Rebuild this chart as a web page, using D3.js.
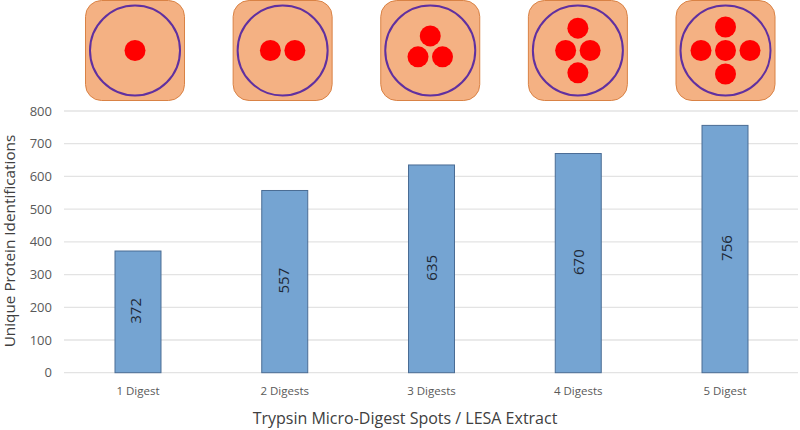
<!DOCTYPE html>
<html><head><meta charset="utf-8">
<script src="https://d3js.org/d3.v7.min.js"></script>
<style>html,body{margin:0;background:#fff}svg{display:block;font-family:"Open Sans",sans-serif}</style>
</head><body><svg width="800" height="430"></svg>
<script>
const categories=["1 Digest","2 Digests","3 Digests","4 Digests","5 Digest"];
const values=[372,557,635,670,756];
const yTicks=[0,100,200,300,400,500,600,700,800];
// Spot layout of each icon, in units of one spot-grid step
const spotCols=[[0],[-0.5,0.5],[-0.5,0,0.5],[-0.5,0.5,0,0],[-1,0,1,0,0]];
const spotRows=[[0],[0,0],[0.27,-0.62,0.27],[0,0,-0.95,0.95],[0,0,0,-1,1]];

const svg=d3.select("svg");
const x=d3.scaleBand().domain(categories).range([115,748]).paddingInner(0.6866).paddingOuter(0);
const iconX=d3.scalePoint().domain(categories).range([135,725.5]);
const y=d3.scaleLinear().domain([0,800]).range([372.7,111]);
const cx=c=>x(c)+x.bandwidth()/2;

svg.append("g").selectAll("line").data(yTicks).join("line")
  .attr("x1",64).attr("x2",798).attr("y1",d=>y(d)).attr("y2",d=>y(d))
  .attr("stroke","#e3e3e3").attr("stroke-width",1.3);
svg.append("g").selectAll("text").data(yTicks).join("text")
  .attr("x",52).attr("y",d=>y(d)).attr("dy","0.35em").attr("text-anchor","end")
  .attr("font-size",13).attr("fill","#595959").text(d=>d);

svg.append("g").selectAll("rect").data(values).join("rect")
  .attr("x",(d,i)=>x(categories[i])).attr("width",x.bandwidth())
  .attr("y",d=>y(d)).attr("height",d=>y(0)-y(d))
  .attr("fill","#75a4d2").attr("stroke","#4a6c94").attr("stroke-width",1);
svg.append("g").selectAll("text").data(values).join("text")
  .attr("transform",(d,i)=>`translate(${iconX(categories[i])+1},${y(d/2)-1}) rotate(-90)`)
  .attr("text-anchor","middle").attr("dy","0.35em")
  .attr("font-size",15).attr("fill","#1f2a38").text(d=>d);

svg.append("g").selectAll("text").data(categories).join("text")
  .attr("x",d=>cx(d)).attr("y",391).attr("dy","0.35em").attr("text-anchor","middle")
  .attr("font-size",11.5).attr("fill","#595959").text(d=>d);

svg.append("text").attr("x",405).attr("y",418.5).attr("dy","0.35em").attr("text-anchor","middle")
  .attr("font-size",16).attr("fill","#404040").text("Trypsin Micro-Digest Spots / LESA Extract");
svg.append("text").attr("transform","translate(10,241) rotate(-90)").attr("dy","0.35em").attr("text-anchor","middle")
  .attr("font-size",15.3).attr("fill","#404040").text("Unique Protein Identifications");

const icons=svg.append("g").selectAll("g").data(categories).join("g")
  .attr("transform",d=>`translate(${iconX(d)},50.5)`);
icons.append("rect").attr("x",-49.5).attr("y",-50).attr("width",99).attr("height",100).attr("rx",16)
  .attr("fill","#f4b183").attr("stroke","#d98245").attr("stroke-width",1);
icons.append("circle").attr("r",45).attr("fill","none").attr("stroke","#6030a0").attr("stroke-width",2);
icons.each(function(d,i){
  d3.select(this).selectAll(".spot").data(spotCols[i].map((c,j)=>[c,spotRows[i][j]])).join("circle")
    .attr("class","spot").attr("cx",p=>p[0]*24.5).attr("cy",p=>p[1]*23.5).attr("r",10.5).attr("fill","#ff0000");
});
</script></body></html>
